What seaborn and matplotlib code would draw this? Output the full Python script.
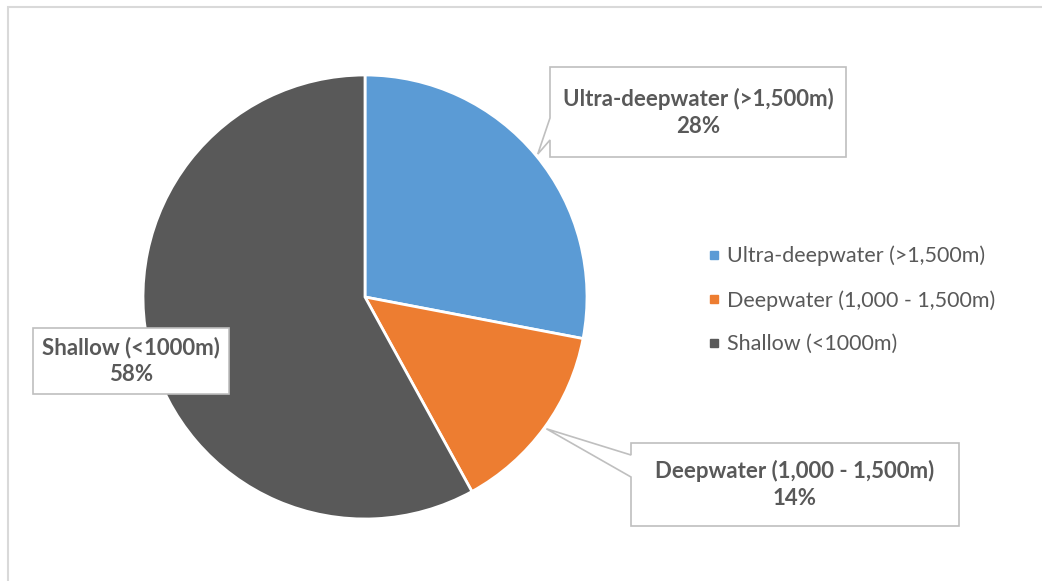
import numpy as np
import matplotlib
matplotlib.use("Agg")
import matplotlib.pyplot as plt
from matplotlib.patches import Polygon, Rectangle
from matplotlib.lines import Line2D
import seaborn as sns

# data
categories = ['Ultra-deepwater (>1,500m)', 'Deepwater (1,000 - 1,500m)', 'Shallow (<1000m)']
shares = [28, 14, 58]
colors = ['#5B9BD5', '#ED7D31', '#595959']

sns.set_theme(style="white")
plt.rcParams['font.family'] = ['Lato', 'DejaVu Sans']
text_col = '#595959'

W, H = 1042, 581
fig = plt.figure(figsize=(W / 100, H / 100), dpi=100)
ax = fig.add_axes([0, 0, 1, 1])

def py(y):
    # pixel row (from top) -> data y
    return H - y

cx, cy, r = 365, py(297), 222
wedges, _ = ax.pie(shares, colors=colors, startangle=90, counterclock=False,
                   center=(cx, cy), radius=r, frame=True,
                   wedgeprops=dict(edgecolor='white', linewidth=2))
ax.set_xlim(0, W)
ax.set_ylim(0, H)
ax.set_aspect('equal')
ax.axis('off')

# outer chart frame
ax.add_patch(Rectangle((8, -20), 1100, py(7) + 20, fill=False, edgecolor='#D9D9D9', lw=1.5))

# mid angle of each wedge
mids = [np.deg2rad((w.theta1 + w.theta2) / 2) for w in wedges]

def callout(box, label, pct, tip=None, notch=None):
    x0, y0, x1, y1 = box  # pixel coords, y from top
    if tip is None:
        pts = [(x0, y0), (x1, y0), (x1, y1), (x0, y1)]
    else:
        n0, n1 = notch
        pts = [(x0, y0), (x1, y0), (x1, y1), (x0, y1), (x0, n1), tip, (x0, n0)]
    pts = [(x, py(y)) for x, y in pts]
    ax.add_patch(Polygon(pts, closed=True, facecolor='white', edgecolor='#BFBFBF', lw=1.2, zorder=5))
    ax.text((x0 + x1) / 2, py((y0 + y1) / 2), f"{label}\n{pct}%", ha='center', va='center',
            fontsize=16, fontweight='bold', color=text_col, linespacing=1.35, zorder=6)

def tip_at(i, k=1.01):
    return (cx + k * r * np.cos(mids[i]), H - (cy + k * r * np.sin(mids[i])))

callout((550, 67, 846, 157), categories[0], shares[0], tip=tip_at(0), notch=(118, 140))
callout((631, 443, 959, 526), categories[1], shares[1], tip=tip_at(1), notch=(455, 477))
callout((33, 328, 229, 394), categories[2], shares[2])

handles = [Line2D([], [], marker='s', linestyle='', markersize=6, color=c) for c in colors]
leg = ax.legend(handles, categories, loc='center left', bbox_to_anchor=(696 / W, py(300) / H),
                frameon=False, fontsize=15.5, labelspacing=1.1, handletextpad=0.25,
                handlelength=0.7, borderpad=0)
for t in leg.get_texts():
    t.set_color(text_col)

fig.savefig('out.png', dpi=100)
